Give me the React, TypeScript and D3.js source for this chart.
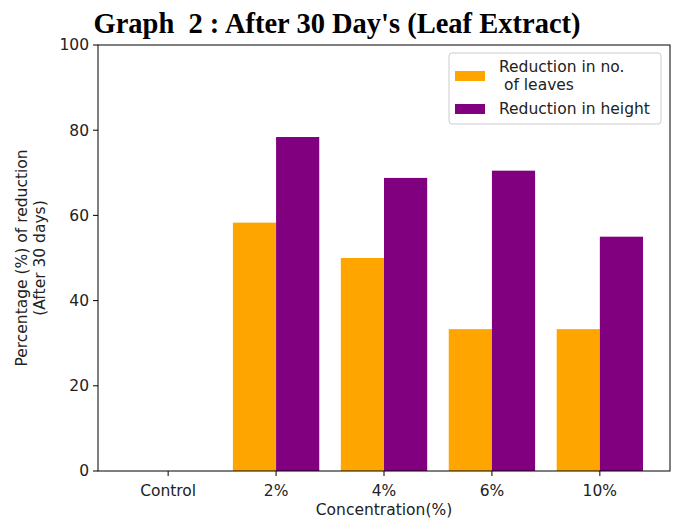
import React from 'react';
import * as d3 from 'd3';

const categories = ['Control', '2%', '4%', '6%', '10%'];
const leaves = [0, 58.3, 50.0, 33.3, 33.3];
const height = [0, 78.4, 68.8, 70.5, 55.0];
const yTicks = [0, 20, 40, 60, 80, 100];
const seriesNames = ['Reduction in no.\n of leaves', 'Reduction in height'];
const colors = ['#FFA500', '#800080'];

const W = 678;
const H = 520;
const m = { left: 98, right: 670, top: 45, bottom: 471 };
const font = 'DejaVu Sans, sans-serif';
const fs = 15.5;

const App = () => {
  const x = d3.scaleLinear().domain([-0.65, 4.65]).range([m.left, m.right]);
  const y = d3.scaleLinear().domain([0, 100]).range([m.bottom, m.top]);
  const bw = x(0.4) - x(0);
  const series = [leaves, height];

  return (
    <svg width={W} height={H} style={{ position: 'absolute', left: 0, top: 0, background: '#fff' }}>
      <text x={337} y={33} textAnchor="middle" fontFamily="Liberation Serif, Times New Roman, serif" fontWeight="bold" fontSize={28.5} style={{ whiteSpace: 'pre' }}>
        {"Graph  2 : After 30 Day's (Leaf Extract)"}
      </text>
      {series.map((vals, s) =>
        vals.map((v, i) => (
          <rect
            key={`${s}-${i}`}
            x={x(i - 0.4 + s * 0.4)}
            y={y(v)}
            width={bw}
            height={y(0) - y(v)}
            fill={colors[s]}
          />
        ))
      )}
      <rect x={m.left} y={m.top} width={m.right - m.left} height={m.bottom - m.top} fill="none" stroke="#000" strokeWidth={1} />
      {yTicks.map((t) => (
        <g key={t}>
          <line x1={m.left - 5} x2={m.left} y1={y(t)} y2={y(t)} stroke="#000" />
          <text x={m.left - 9} y={y(t)} dy="0.35em" textAnchor="end" fontFamily={font} fontSize={fs} fill="#222">
            {t}
          </text>
        </g>
      ))}
      {categories.map((c, i) => (
        <g key={c}>
          <line x1={x(i)} x2={x(i)} y1={m.bottom} y2={m.bottom + 5} stroke="#000" />
          <text x={x(i)} y={m.bottom + 25} textAnchor="middle" fontFamily={font} fontSize={fs} fill="#222">
            {c}
          </text>
        </g>
      ))}
      <text x={(m.left + m.right) / 2} y={515} textAnchor="middle" fontFamily={font} fontSize={fs} fill="#222">
        Concentration(%)
      </text>
      <text transform={`translate(27,${(m.top + m.bottom) / 2}) rotate(-90)`} textAnchor="middle" fontFamily={font} fontSize={fs} fill="#222">
        <tspan x={0} dy={0}>Percentage (%) of reduction</tspan>
        <tspan x={0} dy={18}>(After 30 days)</tspan>
      </text>
      <g>
        <rect x={449} y={53} width={212} height={71} rx={3} fill="#fff" fillOpacity={0.8} stroke="#ccc" />
        {seriesNames.map((n, s) => {
          const ly = s === 0 ? 76 : 109;
          const lines = n.split('\n');
          return (
            <g key={n}>
              <rect x={455} y={ly - 5} width={30} height={10} fill={colors[s]} />
              <text x={499} y={s === 0 ? 72 : 114} fontFamily={font} fontSize={fs} fill="#222" style={{ whiteSpace: 'pre' }}>
                {lines.map((l, k) => (
                  <tspan key={k} x={499} dy={k === 0 ? 0 : 18}>
                    {l}
                  </tspan>
                ))}
              </text>
            </g>
          );
        })}
      </g>
    </svg>
  );
};

export default App;
